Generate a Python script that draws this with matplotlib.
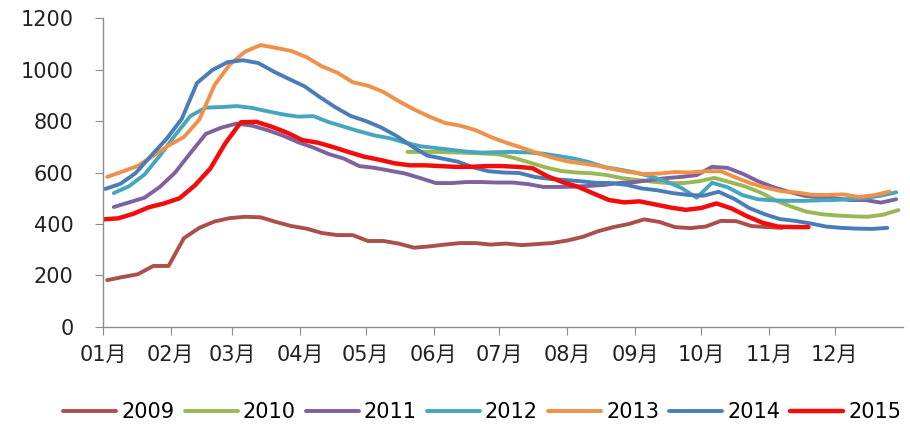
import matplotlib
matplotlib.use("Agg")
import matplotlib.pyplot as plt
import pandas as pd

plt.rcParams['font.family'] = ['DejaVu Sans', 'Noto Sans CJK SC']

# weekly values
start_2009 = "2009-01-03"
v2009 = [182, 194, 205, 237, 237, 345, 385, 410, 423, 428, 426, 408, 392, 382, 365, 357, 357, 334, 334, 324,
         308, 313, 320, 326, 326, 320, 324, 318, 322, 326, 336, 350, 372, 388, 400, 418, 408, 388, 384, 390,
         412, 411, 392, 388, 385]

start_2010 = "2010-05-20"
v2010 = [680, 680, 680, 678, 676, 674, 670, 656, 638, 620, 606, 600, 597, 590, 578, 571, 564, 559, 559, 566,
         579, 563, 546, 523, 492, 468, 448, 438, 433, 430, 428, 436, 454]

start_2011 = "2011-01-06"
v2011 = [466, 484, 502, 544, 600, 676, 750, 774, 790, 782, 765, 744, 718, 697, 672, 654, 625, 618, 607, 596,
         578, 559, 559, 563, 563, 561, 561, 555, 544, 544, 545, 548, 552, 560, 563, 571, 578, 583, 590, 622,
         618, 595, 566, 543, 525, 510, 503, 500, 493, 493, 483, 496]

start_2012 = "2012-01-06"
v2012 = [520, 547, 592, 665, 745, 820, 852, 854, 858, 851, 838, 826, 817, 819, 796, 778, 760, 744, 733, 716,
         702, 695, 688, 681, 677, 679, 680, 678, 673, 664, 654, 640, 621, 611, 600, 585, 566, 540, 502, 560,
         543, 512, 496, 492, 490, 490, 492, 493, 497, 501, 510, 523]

start_2013 = "2013-01-03"
v2013 = [583, 604, 626, 665, 705, 738, 805, 940, 1020, 1070, 1095, 1084, 1072, 1048, 1012, 988, 951, 937, 913, 877,
         845, 817, 793, 782, 765, 738, 716, 697, 676, 658, 643, 635, 626, 613, 602, 594, 596, 602, 600, 605,
         605, 580, 557, 540, 527, 522, 513, 513, 515, 505, 512, 526]

start_2014 = "2014-01-02"
v2014 = [536, 556, 598, 665, 730, 808, 948, 998, 1029, 1036, 1025, 992, 963, 935, 893, 854, 820, 800, 775, 742,
         702, 666, 654, 642, 620, 605, 600, 598, 583, 575, 571, 566, 560, 559, 552, 538, 531, 520, 513, 510,
         525, 498, 462, 438, 419, 412, 402, 390, 385, 382, 381, 385]

start_2015 = "2015-01-01"
v2015 = [418, 422, 440, 465, 480, 500, 550, 615, 715, 795, 797, 778, 755, 726, 716, 699, 680, 662, 650, 636,
         628, 628, 625, 622, 622, 625, 625, 622, 617, 585, 562, 544, 518, 493, 484, 488, 476, 464, 455, 462,
         480, 460, 430, 405, 390, 388, 388]

years = ["2009", "2010", "2011", "2012", "2013", "2014", "2015"]
starts = [start_2009, start_2010, start_2011, start_2012, start_2013, start_2014, start_2015]
values = [v2009, v2010, v2011, v2012, v2013, v2014, v2015]
colors = ["#AC4E4B", "#98B856", "#7D62A0", "#46A6BE", "#F0914A", "#4A7DB8", "#F20D0D"]
widths = [2.8, 2.8, 2.8, 2.8, 2.8, 2.8, 3.2]

month_labels = ["01月", "02月", "03月", "04月", "05月", "06月", "07月", "08月", "09月", "10月", "11月", "12月"]
month_days = [0, 31, 59, 90, 120, 151, 181, 212, 243, 273, 304, 334]

fig = plt.figure(figsize=(9.1, 4.25), dpi=100)
ax = fig.add_axes([0.113, 0.2306, 0.879, 0.727])

for year, start, vals, c, lw in zip(years, starts, values, colors, widths):
    dates = pd.date_range(start, periods=len(vals), freq="7D")
    day = dates.dayofyear - 1
    ax.plot(day, vals, color=c, lw=lw, label=year, solid_capstyle="round")

ax.set_xlim(0, 365)
ax.set_ylim(0, 1200)
ax.set_yticks(range(0, 1201, 200))
ax.set_xticks(month_days)
ax.set_xticklabels(month_labels)

for s in ["top", "right"]:
    ax.spines[s].set_visible(False)
for s in ["left", "bottom"]:
    ax.spines[s].set_color("#8c8c8c")
    ax.spines[s].set_linewidth(1.0)
ax.tick_params(axis="y", length=6, color="#8c8c8c", pad=15, labelsize=15, labelcolor="#222222")
ax.tick_params(axis="x", length=6, color="#8c8c8c", pad=7, labelsize=15, labelcolor="#222222")

fig.legend(loc="center", bbox_to_anchor=(0.53, 0.03), ncol=7, frameon=False,
           fontsize=15, handlelength=2.55, handletextpad=0.24, columnspacing=0.48)

fig.savefig("out.png", dpi=100)
